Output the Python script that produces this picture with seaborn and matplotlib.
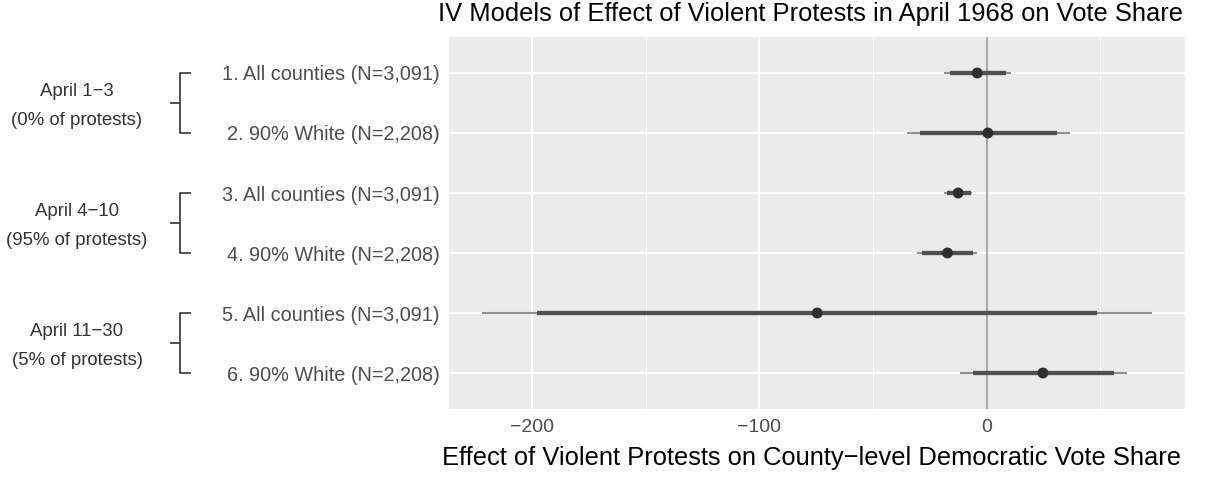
import matplotlib
matplotlib.use("Agg")
import matplotlib.pyplot as plt
import matplotlib.transforms as mtransforms
import numpy as np
import pandas as pd
import seaborn as sns

# Model labels, top to bottom
models = [
    "1. All counties (N=3,091)",
    "2. 90% White (N=2,208)",
    "3. All counties (N=3,091)",
    "4. 90% White (N=2,208)",
    "5. All counties (N=3,091)",
    "6. 90% White (N=2,208)",
]
# Point estimates and confidence bounds (inner = 90%, outer = 95%)
estimate = [-4.1, 0.6, -12.5, -17.2, -74.5, 24.8]
lo_inner = [-16.1, -29.3, -17.6, -28.3, -198.0, -5.9]
hi_inner = [8.4, 30.8, -6.9, -5.9, 48.8, 55.9]
lo_outer = [-18.7, -34.9, -18.7, -30.5, -221.8, -11.7]
hi_outer = [10.7, 36.5, -6.3, -4.0, 72.6, 61.7]

# Period groupings (row ranges) shown with brackets on the left
group_labels = ["April 1\u22123\n(0% of protests)",
                "April 4\u221210\n(95% of protests)",
                "April 11\u221230\n(5% of protests)"]
group_rows = [(0, 1), (2, 3), (4, 5)]

x_ticks = [-200, -100, 0]
x_tick_labels = ["\u2212200", "\u2212100", "0"]
title = "IV Models of Effect of Violent Protests in April 1968 on Vote Share"
xlabel = "Effect of Violent Protests on County\u2212level Democratic Vote Share"

df = pd.DataFrame({
    "model": models,
    "row": np.arange(len(models)),
    "estimate": estimate,
    "lo_inner": lo_inner, "hi_inner": hi_inner,
    "lo_outer": lo_outer, "hi_outer": hi_outer,
})

sns.set_theme(style="darkgrid")
plt.rcParams["font.family"] = ["Liberation Sans", "DejaVu Sans"]

W, H = 1207, 490
fig = plt.figure(figsize=(W / 100, H / 100), dpi=100)
left, right, top, bottom = 449, 1185, 37, 409
ax = fig.add_axes([left / W, 1 - bottom / H, (right - left) / W, (bottom - top) / H])
ax.set_facecolor("#EBEBEB")
for s in ax.spines.values():
    s.set_visible(False)

# ggplot-style 5% expansion of the data range
xmin = min(lo_outer + estimate)
xmax = max(hi_outer + estimate)
pad = 0.05 * (xmax - xmin)
ax.set_xlim(xmin - pad, xmax + pad)
ax.set_ylim(len(models) - 0.4, -0.6)

# grid
ax.set_xticks(x_ticks)
ax.set_xticklabels(x_tick_labels)
ax.set_xticks([-150, -50, 50], minor=True)
ax.set_yticks(df["row"])
ax.set_yticklabels(models)
ax.grid(which="major", color="white", linewidth=1.5)
ax.grid(which="minor", axis="x", color="white", linewidth=0.75)
ax.set_axisbelow(True)

ax.tick_params(axis="both", which="major", length=4, width=1.0, color="#333333",
               labelcolor="#4D4D4D", labelsize=14, pad=2.5)
ax.tick_params(axis="y", labelsize=14.3)
ax.tick_params(axis="x", which="minor", length=0)
ax.tick_params(axis="x", pad=3)

# reference line at zero
ax.axvline(0, color="#9A9A9A", linewidth=1.2, zorder=1.5)

# intervals and point estimates
ax.hlines(df["row"], df["lo_outer"], df["hi_outer"], color="#909090", linewidth=1.5, zorder=2)
ax.hlines(df["row"], df["lo_inner"], df["hi_inner"], color="#4F4F4F", linewidth=3.1, zorder=3)
sns.scatterplot(data=df, x="estimate", y="row", ax=ax, s=62, color="#2E2E2E",
                edgecolor="none", zorder=4, legend=False)
ax.set_xlabel("")
ax.set_ylabel("")

# titles
cx = 811 / W
fig.text(cx, 1 - 14 / H, title, ha="center", va="center", fontsize=18.4, color="black")
fig.text(cx, 1 - 458 / H, xlabel, ha="center", va="center", fontsize=18.4, color="black")

# group brackets to the left of the tick labels
trans = mtransforms.blended_transform_factory(fig.transFigure, ax.transData)
bx, arm, nub = 180 / W, 191 / W, 170 / W
for lab, (r0, r1) in zip(group_labels, group_rows):
    kw = dict(transform=trans, color="#333333", linewidth=1.2, clip_on=False,
              solid_capstyle="butt")
    ax.plot([arm, bx, bx, arm], [r0, r0, r1, r1], **kw)
    mid = (r0 + r1) / 2
    ax.plot([nub, bx], [mid, mid], **kw)
    ax.text(77 / W, mid + 0.05, lab, transform=trans, ha="center", va="center",
            multialignment="center", fontsize=13.4, color="#333333", linespacing=1.85)

fig.savefig("out.png", dpi=100)
